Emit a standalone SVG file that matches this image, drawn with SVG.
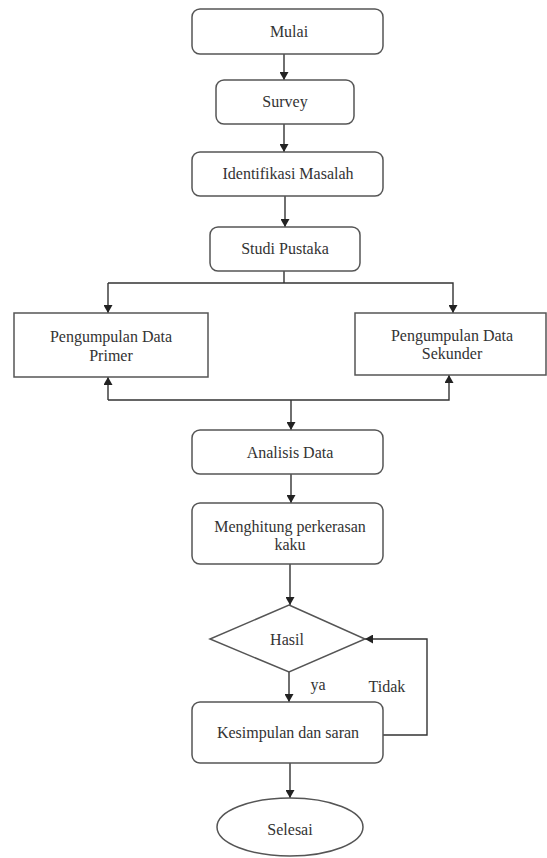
<svg xmlns="http://www.w3.org/2000/svg" width="547" height="858" viewBox="0 0 547 858">
<style>
.n{fill:#fff;stroke:#555;stroke-width:1.5}
.t{font-family:"Liberation Serif","Times New Roman",serif;font-size:16px;fill:#333;text-anchor:middle}
.c{fill:none;stroke:#333;stroke-width:1.4}
</style>
<defs>
<marker id="a" markerWidth="8" markerHeight="9" refX="8" refY="4.5" orient="auto" markerUnits="userSpaceOnUse">
<path d="M0,0 L8,4.5 L0,9 Z" fill="#222"/>
</marker>
</defs>
<rect width="547" height="858" fill="#fff"/>
<g id="connectors">
<path class="c" d="M284,54 V80" marker-end="url(#a)"/>
<path class="c" d="M284,124 V152" marker-end="url(#a)"/>
<path class="c" d="M285,196 V227" marker-end="url(#a)"/>
<path class="c" d="M284,271 V283"/>
<path class="c" d="M108,283 H453 V313" marker-end="url(#a)"/>
<path class="c" d="M108,283 V313" marker-end="url(#a)"/>
<path class="c" d="M108,400 V377" marker-end="url(#a)"/>
<path class="c" d="M108,400 H449 V375" marker-end="url(#a)"/>
<path class="c" d="M291,400 V430" marker-end="url(#a)"/>
<path class="c" d="M291,474 V503" marker-end="url(#a)"/>
<path class="c" d="M290,564 V605" marker-end="url(#a)"/>
<path class="c" d="M289,672 V702" marker-end="url(#a)"/>
<path class="c" d="M383,735 H427 V639 H365" marker-end="url(#a)"/>
<path class="c" d="M290,763 V798" marker-end="url(#a)"/>
<text class="t" x="318" y="690">ya</text>
<text class="t" x="387" y="692">Tidak</text>
</g>
<g id="mulai"><rect class="n" x="192" y="9" width="191" height="45" rx="8"/><text class="t" x="289" y="37">Mulai</text></g>
<g id="survey"><rect class="n" x="216" y="80" width="138" height="44" rx="8"/><text class="t" x="285" y="107">Survey</text></g>
<g id="identifikasi"><rect class="n" x="192" y="152" width="191" height="44" rx="8"/><text class="t" x="288" y="179">Identifikasi Masalah</text></g>
<g id="studi"><rect class="n" x="210" y="227" width="150" height="44" rx="8"/><text class="t" x="285" y="254">Studi Pustaka</text></g>
<g id="primer"><rect class="n" x="14" y="313" width="194" height="64"/><text class="t" x="111" y="342">Pengumpulan Data</text><text class="t" x="111" y="361">Primer</text></g>
<g id="sekunder"><rect class="n" x="355" y="313" width="191" height="62"/><text class="t" x="452" y="341">Pengumpulan Data</text><text class="t" x="452" y="359">Sekunder</text></g>
<g id="analisis"><rect class="n" x="192" y="430" width="191" height="44" rx="8"/><text class="t" x="290" y="458">Analisis Data</text></g>
<g id="menghitung"><rect class="n" x="192" y="503" width="191" height="61" rx="8"/><text class="t" x="290" y="532">Menghitung perkerasan</text><text class="t" x="290" y="550">kaku</text></g>
<g id="hasil"><polygon class="n" points="289,605 365,639 289,672 210,639"/><text class="t" x="287" y="645">Hasil</text></g>
<g id="kesimpulan"><rect class="n" x="192" y="702" width="191" height="61" rx="8"/><text class="t" x="288" y="738">Kesimpulan dan saran</text></g>
<g id="selesai"><ellipse class="n" cx="290" cy="827" rx="73" ry="29"/><text class="t" x="290" y="835">Selesai</text></g>
</svg>
